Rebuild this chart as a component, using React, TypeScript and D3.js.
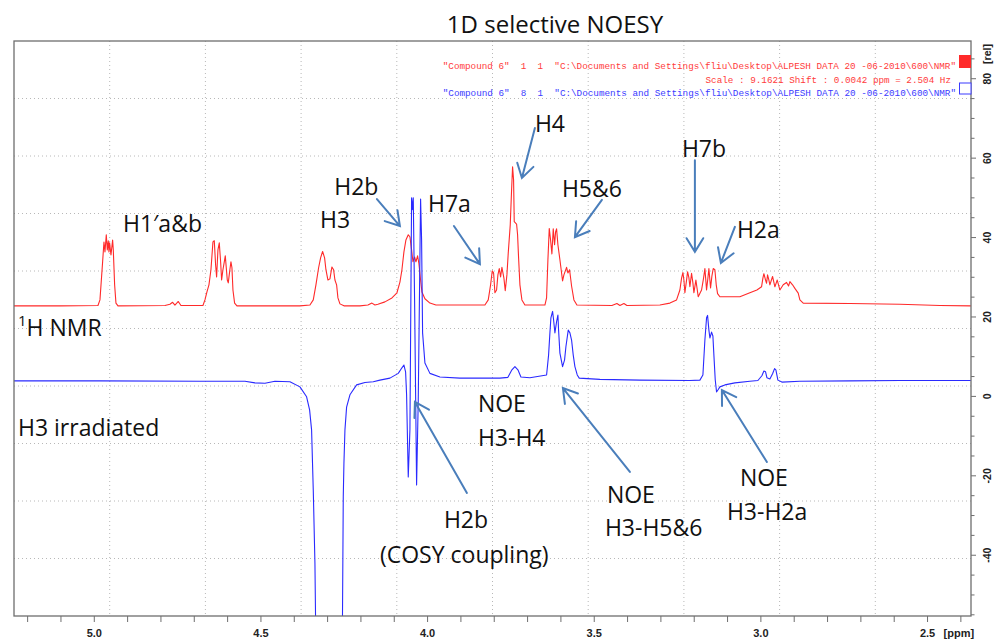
import React from 'react';
import * as d3 from 'd3';

// ---- axes ----
const X_DOMAIN: [number, number] = [5.2409, 2.3696]; // ppm (reversed)
const Y_DOMAIN: [number, number] = [-55.3, 89.5];    // rel
const X_MAJOR = [5.0, 4.5, 4.0, 3.5, 3.0, 2.5];
const X_MAJOR_LABELS = ['5.0', '4.5', '4.0', '3.5', '3.0', '2.5'];
const X_MINOR = [5.2, 5.1, 4.9, 4.8, 4.7, 4.6, 4.4, 4.3, 4.2, 4.1, 3.9, 3.8, 3.7, 3.6, 3.4, 3.3, 3.2, 3.1, 2.9, 2.8, 2.7, 2.6, 2.4];
const Y_MAJOR = [-40, -20, 0, 20, 40, 60, 80];
const Y_MAJOR_LABELS = ['-40', '-20', '0', '20', '40', '60', '80'];
const Y_MINOR = [-55, -50, -45, -35, -30, -25, -15, -10, -5, 5, 10, 15, 25, 30, 35, 45, 50, 55, 65, 70, 75, 85];

// ---- spectra: [ppm, rel] ----
const RED_SPECTRUM: [number, number][] = [
  [5.241, 22.8], [5.103, 22.8], [4.989, 22.9], [4.983, 24.3], [4.975, 33.9], [4.971, 38.9], [4.968, 36.4],
  [4.964, 40.7], [4.961, 36.9], [4.958, 39.2], [4.956, 36.4], [4.954, 38.7], [4.950, 35.6], [4.945, 39.4],
  [4.943, 36.9], [4.939, 28.1], [4.935, 23.5], [4.929, 22.8], [4.788, 22.9], [4.773, 23.2], [4.765, 23.7],
  [4.758, 23.0], [4.748, 23.9], [4.740, 22.9], [4.674, 22.9], [4.668, 24.3], [4.662, 26.3], [4.656, 28.1],
  [4.650, 31.9], [4.644, 38.9], [4.640, 39.2], [4.636, 33.1], [4.633, 30.1], [4.629, 36.9], [4.625, 38.7],
  [4.621, 33.9], [4.618, 29.3], [4.614, 31.9], [4.610, 33.9], [4.607, 35.4], [4.604, 32.4], [4.601, 29.3],
  [4.598, 28.6], [4.594, 31.4], [4.590, 33.9], [4.587, 32.4], [4.584, 26.8], [4.579, 23.5], [4.572, 22.8],
  [4.383, 22.8], [4.353, 23.0], [4.343, 24.3], [4.335, 28.1], [4.327, 32.4], [4.321, 34.9], [4.315, 36.5],
  [4.309, 34.9], [4.305, 31.9], [4.299, 29.3], [4.293, 29.6], [4.287, 32.6], [4.282, 31.9], [4.278, 29.3],
  [4.273, 28.1], [4.269, 24.8], [4.263, 23.3], [4.251, 22.8], [4.203, 22.8], [4.179, 23.0], [4.167, 23.5],
  [4.158, 23.0], [4.149, 23.2], [4.128, 23.8], [4.107, 24.8], [4.092, 26.1], [4.083, 28.8], [4.077, 31.9],
  [4.071, 36.4], [4.065, 39.4], [4.058, 40.7], [4.053, 40.2], [4.048, 36.9], [4.044, 33.9], [4.039, 35.1],
  [4.035, 33.9], [4.030, 35.4], [4.026, 33.4], [4.021, 29.3], [4.017, 26.3], [4.008, 24.6], [3.993, 23.5],
  [3.975, 23.0], [3.828, 23.0], [3.818, 24.3], [3.811, 28.1], [3.806, 31.6], [3.802, 31.1], [3.798, 26.1],
  [3.793, 26.8], [3.789, 30.6], [3.785, 32.2], [3.781, 30.1], [3.777, 32.5], [3.771, 29.8], [3.767, 26.6],
  [3.762, 30.6], [3.758, 36.1], [3.752, 43.2], [3.748, 52.0], [3.745, 57.8], [3.742, 54.5], [3.740, 44.0],
  [3.733, 43.4], [3.730, 40.7], [3.727, 34.9], [3.723, 28.1], [3.717, 24.3], [3.708, 23.0], [3.648, 23.0],
  [3.643, 24.8], [3.639, 34.4], [3.635, 42.3], [3.631, 39.4], [3.627, 35.9], [3.623, 42.2], [3.619, 38.2],
  [3.616, 41.4], [3.613, 42.2], [3.609, 38.2], [3.603, 34.4], [3.595, 29.1], [3.591, 30.6], [3.583, 32.5],
  [3.579, 31.1], [3.574, 31.9], [3.568, 27.8], [3.561, 24.3], [3.552, 23.0], [3.447, 22.9], [3.432, 23.4],
  [3.423, 22.9], [3.411, 23.4], [3.402, 22.9], [3.303, 23.0], [3.273, 23.5], [3.253, 24.3], [3.243, 26.8],
  [3.238, 29.8], [3.234, 31.2], [3.231, 29.3], [3.228, 26.1], [3.223, 29.3], [3.220, 31.4], [3.216, 29.9],
  [3.213, 27.6], [3.208, 31.0], [3.204, 28.6], [3.201, 26.1], [3.195, 29.3], [3.188, 25.1], [3.178, 26.8],
  [3.172, 29.8], [3.168, 32.2], [3.163, 26.8], [3.159, 29.8], [3.156, 32.2], [3.151, 27.3], [3.147, 30.3],
  [3.143, 32.2], [3.138, 31.9], [3.134, 28.1], [3.130, 25.9], [3.123, 25.1], [3.063, 25.1], [3.033, 26.1],
  [3.012, 26.8], [2.998, 27.6], [2.994, 29.8], [2.991, 30.9], [2.986, 29.3], [2.983, 28.5], [2.980, 30.6],
  [2.976, 29.3], [2.973, 28.1], [2.965, 30.2], [2.958, 27.6], [2.951, 29.3], [2.943, 26.8], [2.933, 28.1],
  [2.923, 28.7], [2.917, 27.8], [2.913, 28.9], [2.905, 28.1], [2.898, 27.2], [2.888, 26.0], [2.883, 24.3],
  [2.873, 23.5], [2.733, 23.4], [2.583, 23.2], [2.463, 22.9], [2.370, 22.8],
];

const BLUE_SPECTRUM: [number, number][] = [
  [5.241, 3.9], [4.983, 3.9], [4.683, 3.8], [4.548, 3.8], [4.518, 3.4], [4.488, 3.3], [4.458, 3.8],
  [4.413, 3.7], [4.383, 2.4], [4.363, -0.1], [4.354, -3.4], [4.348, -8.5], [4.343, -23.6], [4.338, -42.0],
  [4.335, -63.9], [4.318, -95], [4.296, -140], [4.274, -95], [4.256, -63.9], [4.253, -25.3], [4.251, -16.8],
  [4.248, -8.5], [4.243, -2.7], [4.233, 0.4], [4.213, 2.9], [4.188, 3.5], [4.163, 3.7], [4.143, 4.1],
  [4.113, 4.6], [4.088, 5.8], [4.077, 7.2], [4.071, 7.9], [4.066, 6.2], [4.063, 0.4], [4.058, -20.3],
  [4.053, -8.4], [4.048, 50.0], [4.046, 47.0], [4.043, 50.0], [4.039, 24.3], [4.033, -22.3], [4.028, -0.9],
  [4.021, 49.7], [4.018, 39.4], [4.015, 16.0], [4.008, 8.4], [3.993, 5.8], [3.963, 4.9], [3.903, 4.6],
  [3.783, 4.6], [3.759, 4.8], [3.747, 6.7], [3.738, 7.5], [3.729, 6.7], [3.720, 4.9], [3.693, 4.7],
  [3.643, 5.4], [3.637, 10.4], [3.633, 16.0], [3.630, 19.8], [3.625, 21.4], [3.622, 19.3], [3.618, 16.0],
  [3.613, 18.8], [3.609, 20.5], [3.607, 16.7], [3.603, 10.9], [3.595, 7.5], [3.589, 9.2], [3.585, 12.5],
  [3.578, 16.7], [3.573, 16.0], [3.568, 14.2], [3.563, 10.4], [3.558, 7.5], [3.551, 5.4], [3.545, 4.6],
  [3.483, 4.3], [3.363, 4.1], [3.213, 4.0], [3.183, 4.1], [3.174, 5.4], [3.168, 14.2], [3.163, 19.8],
  [3.160, 20.4], [3.156, 16.7], [3.153, 14.7], [3.148, 16.2], [3.144, 15.2], [3.141, 10.4], [3.137, 4.2],
  [3.133, 1.1], [3.129, 1.6], [3.123, 2.4], [3.108, 2.9], [3.078, 3.4], [3.033, 3.8], [3.009, 4.0],
  [2.997, 5.2], [2.991, 6.4], [2.986, 6.2], [2.982, 4.7], [2.973, 4.4], [2.965, 5.7], [2.959, 7.0],
  [2.955, 6.7], [2.949, 4.1], [2.937, 3.6], [2.883, 3.8], [2.733, 3.9], [2.583, 4.0], [2.463, 4.0], [2.370, 4.0],
];

// ---- annotations (data coordinates) ----
const LABELS: { text: string; ppm: number; rel: number }[] = [
  { text: 'H1′a&b', ppm: 4.914, rel: 41.4 },
  { text: 'H3', ppm: 4.323, rel: 42.4 },
  { text: 'H2b', ppm: 4.280, rel: 50.6 },
  { text: 'H7a', ppm: 3.999, rel: 46.4 },
  { text: 'H4', ppm: 3.678, rel: 66.6 },
  { text: 'H5&6', ppm: 3.597, rel: 50.2 },
  { text: 'H7b', ppm: 3.237, rel: 60.3 },
  { text: 'H2a', ppm: 3.072, rel: 39.9 },
  { text: 'H3 irradiated', ppm: 5.229, rel: -10.0 },
  { text: 'NOE', ppm: 3.849, rel: -3.9 },
  { text: 'H3-H4', ppm: 3.849, rel: -12.5 },
  { text: 'H2b', ppm: 3.951, rel: -33.1 },
  { text: '(COSY coupling)', ppm: 4.143, rel: -41.9 },
  { text: 'NOE', ppm: 3.462, rel: -26.9 },
  { text: 'H3-H5&6', ppm: 3.468, rel: -35.2 },
  { text: 'NOE', ppm: 3.063, rel: -22.6 },
  { text: 'H3-H2a', ppm: 3.102, rel: -31.1 },
];
const NMR_LABEL = { sup: '1', text: 'H NMR', ppm: 5.229, rel: 15.2 };

const ARROWS: { from: [number, number]; to: [number, number] }[] = [
  { from: [4.152, 49.7], to: [4.083, 42.9] },
  { from: [3.921, 42.9], to: [3.843, 33.3] },
  { from: [3.678, 67.6], to: [3.717, 55.0] },
  { from: [3.477, 49.5], to: [3.558, 40.1] },
  { from: [3.198, 59.5], to: [3.198, 36.4] },
  { from: [3.078, 42.7], to: [3.120, 33.6] },
  { from: [3.882, -24.3], to: [4.038, -1.4] },
  { from: [3.393, -19.0], to: [3.594, 2.1] },
  { from: [2.982, -16.5], to: [3.117, 1.6] },
];

const TITLE = '1D selective NOESY';
const HEADER_RED_1 = '"Compound 6"  1  1  "C:\\Documents and Settings\\fliu\\Desktop\\ALPESH DATA 20 -06-2010\\600\\NMR"';
const HEADER_RED_2 = 'Scale : 9.1621 Shift : 0.0042 ppm = 2.504 Hz';
const HEADER_BLUE = '"Compound 6"  8  1  "C:\\Documents and Settings\\fliu\\Desktop\\ALPESH DATA 20 -06-2010\\600\\NMR"';

const W = 1003;
const H = 643;
const M = { left: 14, right: 971, top: 41, bottom: 616 };

const RED = '#ff2a2a';
const BLUE = '#2a2aff';
const ARROW = '#4a7ebb';
const FRAME = '#6e6e6e';
const LABEL_FONT = "'Open Sans', sans-serif";

export default function App() {
  const x = d3.scaleLinear().domain(X_DOMAIN).range([M.left, M.right]);
  const y = d3.scaleLinear().domain(Y_DOMAIN).range([M.bottom, M.top]);
  const line = d3.line<[number, number]>().x(d => x(d[0])).y(d => y(d[1]));
  const pw = M.right - M.left;
  const ph = M.bottom - M.top;
  const gridFr = d3.range(1, 10).map(k => k / 10);

  const arrowPath = (a: { from: [number, number]; to: [number, number] }) => {
    const x1 = x(a.from[0]), y1 = y(a.from[1]);
    const x2 = x(a.to[0]), y2 = y(a.to[1]);
    const ang = Math.atan2(y1 - y2, x1 - x2);
    const L = 16, s = 0.55;
    const w1 = [x2 + L * Math.cos(ang + s), y2 + L * Math.sin(ang + s)];
    const w2 = [x2 + L * Math.cos(ang - s), y2 + L * Math.sin(ang - s)];
    return `M${x1},${y1}L${x2},${y2}M${w1[0]},${w1[1]}L${x2},${y2}L${w2[0]},${w2[1]}`;
  };

  return (
    <svg width={W} height={H} style={{ position: 'absolute', left: 0, top: 0, background: '#fff' }}>
      <defs>
        <clipPath id="plot">
          <rect x={M.left} y={M.top} width={pw} height={ph} />
        </clipPath>
      </defs>
      <rect x={0} y={0} width={W} height={H} fill="#fff" />

      {/* grid */}
      {gridFr.map((f, i) => (
        <line key={'gx' + i} x1={M.left + f * pw} x2={M.left + f * pw} y1={M.top} y2={M.bottom}
          stroke="#b8b8b8" strokeWidth={1} strokeDasharray="1 3" />
      ))}
      {gridFr.map((f, i) => (
        <line key={'gy' + i} x1={M.left} x2={M.right} y1={M.top + f * ph} y2={M.top + f * ph}
          stroke="#b8b8b8" strokeWidth={1} strokeDasharray="1 3" />
      ))}

      {/* spectra */}
      <g clipPath="url(#plot)">
        <path d={line(RED_SPECTRUM) || ''} fill="none" stroke={RED} strokeWidth={1.1} strokeLinejoin="round" />
        <path d={line(BLUE_SPECTRUM) || ''} fill="none" stroke={BLUE} strokeWidth={1.1} strokeLinejoin="round" />
      </g>

      {/* frame */}
      <rect x={M.left} y={M.top} width={pw} height={ph} fill="none" stroke={FRAME} strokeWidth={1.3} />

      {/* x axis ticks */}
      {X_MAJOR.concat(X_MINOR).map((v, i) => (
        <line key={'xt' + i} x1={x(v)} x2={x(v)} y1={M.bottom} y2={M.bottom + 6} stroke={FRAME} strokeWidth={1} />
      ))}
      {X_MAJOR.map((v, i) => (
        <text key={'xl' + i} x={x(v)} y={637} textAnchor="middle" fontFamily="'Liberation Sans', Arial, sans-serif"
          fontWeight="bold" fontSize={11} fill="#222">{X_MAJOR_LABELS[i]}</text>
      ))}
      <text x={x(2.5) + 16} y={637} fontFamily="'Liberation Sans', Arial, sans-serif" fontWeight="bold" fontSize={11} fill="#222">[ppm]</text>

      {/* y axis ticks */}
      {Y_MAJOR.map((v, i) => (
        <line key={'yt' + i} x1={M.right} x2={M.right + 5} y1={y(v)} y2={y(v)} stroke={FRAME} strokeWidth={1} />
      ))}
      {Y_MINOR.map((v, i) => (
        <line key={'ym' + i} x1={M.right} x2={M.right + 3.5} y1={y(v)} y2={y(v)} stroke={FRAME} strokeWidth={1} />
      ))}
      {Y_MAJOR.map((v, i) => (
        <text key={'yl' + i} transform={`translate(991,${y(v)}) rotate(-90)`} textAnchor="middle"
          fontFamily="'Liberation Sans', Arial, sans-serif" fontWeight="bold" fontSize={10.5} fill="#222">{Y_MAJOR_LABELS[i]}</text>
      ))}
      <text transform={`translate(991,${M.top + 13}) rotate(-90)`} textAnchor="middle"
        fontFamily="'Liberation Sans', Arial, sans-serif" fontWeight="bold" fontSize={10.5} fill="#222">[rel]</text>

      {/* header */}
      <text x={956} y={68.5} textAnchor="end" fontFamily="'Liberation Mono', 'Courier New', monospace" fontSize={9.3}
        fill="#ff3b3b" style={{ whiteSpace: 'pre' }}>{HEADER_RED_1}</text>
      <text x={951} y={83} textAnchor="end" fontFamily="'Liberation Mono', 'Courier New', monospace" fontSize={9.3}
        fill="#ff3b3b" style={{ whiteSpace: 'pre' }}>{HEADER_RED_2}</text>
      <text x={956} y={96} textAnchor="end" fontFamily="'Liberation Mono', 'Courier New', monospace" fontSize={9.3}
        fill="#3b3bff" style={{ whiteSpace: 'pre' }}>{HEADER_BLUE}</text>
      <rect x={959} y={55} width={12} height={13} fill="#ff2a2a" />
      <rect x={959.5} y={83} width={11.5} height={11} fill="#fff" stroke="#3b3bff" strokeWidth={1} />

      {/* title */}
      <text x={555} y={33} textAnchor="middle" fontFamily={LABEL_FONT} fontSize={24} fill="#111">{TITLE}</text>

      {/* arrows */}
      {ARROWS.map((a, i) => (
        <path key={'ar' + i} d={arrowPath(a)} fill="none" stroke={ARROW} strokeWidth={2} strokeLinecap="round" />
      ))}

      {/* labels */}
      {LABELS.map((l, i) => (
        <text key={'lb' + i} x={x(l.ppm)} y={y(l.rel)} fontFamily={LABEL_FONT} fontSize={23} fill="#111">{l.text}</text>
      ))}
      <text x={x(NMR_LABEL.ppm)} y={y(NMR_LABEL.rel)} fontFamily={LABEL_FONT} fontSize={23} fill="#111">
        <tspan fontSize={15} dy={-10}>{NMR_LABEL.sup}</tspan>
        <tspan dy={10}>{NMR_LABEL.text}</tspan>
      </text>
    </svg>
  );
}
